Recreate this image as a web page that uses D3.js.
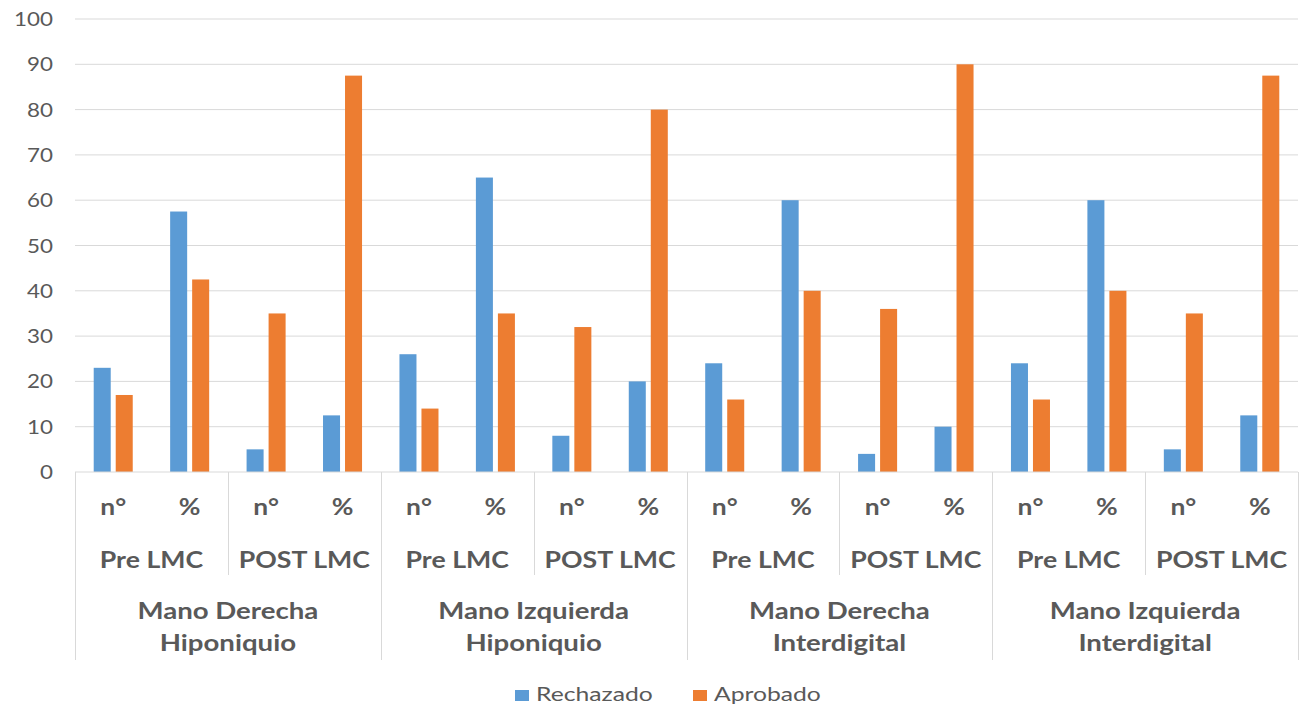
<!DOCTYPE html>
<html>
<head>
<meta charset="utf-8">
<script src="https://cdn.jsdelivr.net/npm/d3@7"></script>
<style>
  body { margin: 0; background: #fff; }
  svg { display: block; font-family: Lato, "Open Sans", sans-serif; }
</style>
</head>
<body>
<div id="chart"></div>
<script>
// Multi-level clustered bar chart

const width = 1299,
    height = 706,
    margin = ({ top: 19, right: 1, bottom: 234, left: 75 });

const series = ["Rechazado", "Aprobado"];
const colors = ["#5b9bd5", "#ed7d31"];

const groups = [["Mano Derecha", "Hiponiquio"], ["Mano Izquierda", "Hiponiquio"],
    ["Mano Derecha", "Interdigital"], ["Mano Izquierda", "Interdigital"]];
const phases = ["Pre LMC", "POST LMC"];
const measures = ["n°", "%"];

const rechazado = [23, 57.5, 5, 12.5, 26, 65, 8, 20, 24, 60, 4, 10, 24, 60, 5, 12.5];
const aprobado = [17, 42.5, 35, 87.5, 14, 35, 32, 80, 16, 40, 36, 90, 16, 40, 35, 87.5];

const yTicks = [0, 10, 20, 30, 40, 50, 60, 70, 80, 90, 100];

// flat category list
const cats = [];
groups.forEach((g, gi) => phases.forEach((p, pi) => measures.forEach((m, mi) => {
    cats.push({ id: cats.length, group: gi, phase: pi, measure: m });
})));

const data = cats.map((c, i) => ({ ...c, values: [rechazado[i], aprobado[i]] }));

const svg = d3.select("#chart")
    .append("svg")
    .attr("width", width)
    .attr("height", height)
    .attr("viewBox", [0, 0, width, height]);

const x = d3.scaleBand()
    .domain(cats.map(d => d.id))
    .range([margin.left, width - margin.right]);

const x1 = d3.scaleBand()
    .domain(series)
    .range([0, x.bandwidth()])
    .paddingInner(0.227)
    .paddingOuter(0.85);

const y = d3.scaleLinear()
    .domain([0, 100])
    .range([height - margin.bottom, margin.top]);

const base = y(0);
const grey = "#595959";
const lineCol = "#d9d9d9";

// the original text is a bit wider than the font, stretch horizontally
const place = (px, py, s) => `translate(${px},${py}) scale(${s},1)`;

// gridlines
svg.append("g")
    .selectAll("line")
    .data(yTicks.filter(d => d > 0))
    .join("line")
    .attr("x1", margin.left)
    .attr("x2", width - margin.right)
    .attr("y1", d => y(d))
    .attr("y2", d => y(d))
    .attr("stroke", lineCol)
    .attr("stroke-width", 1);

// y labels
svg.append("g")
    .selectAll("text")
    .data(yTicks)
    .join("text")
    .attr("transform", d => place(53, y(d), 1.12))
    .attr("dy", "0.35em")
    .attr("text-anchor", "end")
    .attr("fill", grey)
    .attr("font-size", 20)
    .text(d => d);

// bars
svg.append("g")
    .selectAll("g")
    .data(data)
    .join("g")
    .attr("transform", d => `translate(${x(d.id)},0)`)
    .selectAll("rect")
    .data(d => d.values.map((v, i) => ({ key: series[i], value: v, i })))
    .join("rect")
    .attr("x", d => x1(d.key))
    .attr("width", x1.bandwidth())
    .attr("y", d => y(d.value))
    .attr("height", d => base - y(d.value))
    .attr("fill", d => colors[d.i]);

// category axis
const axis = svg.append("g");
axis.append("line")
    .attr("x1", margin.left).attr("x2", width - margin.right)
    .attr("y1", base).attr("y2", base)
    .attr("stroke", lineCol);

const step = x.step();
// separators between phases and groups
d3.range(0, cats.length + 1, 2).forEach(i => {
    const xx = Math.round(margin.left + i * step) + 0.5;
    const full = i % 4 === 0;
    axis.append("line")
        .attr("x1", xx).attr("x2", xx)
        .attr("y1", base).attr("y2", full ? 660 : 575)
        .attr("stroke", lineCol);
});

// level 1 labels
axis.selectAll("text.m")
    .data(cats)
    .join("text")
    .attr("class", "m")
    .attr("transform", d => place(x(d.id) + x.bandwidth() / 2, 515, 1.15))
    .attr("text-anchor", "middle")
    .attr("font-weight", "bold")
    .attr("font-size", 23)
    .attr("fill", grey)
    .text(d => d.measure);

// level 2 labels
const phaseCells = [];
groups.forEach((g, gi) => phases.forEach((p, pi) => phaseCells.push({ label: p, start: (gi * 2 + pi) * 2 })));
axis.selectAll("text.p")
    .data(phaseCells)
    .join("text")
    .attr("class", "p")
    .attr("transform", d => place(margin.left + (d.start + 1) * step, 568, 1.16))
    .attr("text-anchor", "middle")
    .attr("font-weight", "bold")
    .attr("font-size", 23)
    .attr("fill", grey)
    .text(d => d.label);

// level 3 labels
const gText = axis.selectAll("g.g")
    .data(groups)
    .join("g")
    .attr("class", "g")
    .attr("transform", (d, i) => place(margin.left + (i * 4 + 2) * step, 0, 1.2))
    .append("text")
    .attr("text-anchor", "middle")
    .attr("font-weight", "bold")
    .attr("font-size", 23)
    .attr("fill", grey);
gText.append("tspan").attr("x", 0).attr("y", 619).text(d => d[0]);
gText.append("tspan").attr("x", 0).attr("y", 651).text(d => d[1]);

// legend
const legendX = [515, 693];
const legend = svg.append("g")
    .selectAll("g")
    .data(series)
    .join("g")
    .attr("transform", (d, i) => `translate(${legendX[i]},${695})`);
legend.append("rect")
    .attr("x", 0).attr("y", -5)
    .attr("width", 14).attr("height", 11)
    .attr("fill", (d, i) => colors[i]);
legend.append("text")
    .attr("transform", place(21, 6, 1.3))
    .attr("font-size", 19)
    .attr("fill", grey)
    .text(d => d);
</script>
</body>
</html>
